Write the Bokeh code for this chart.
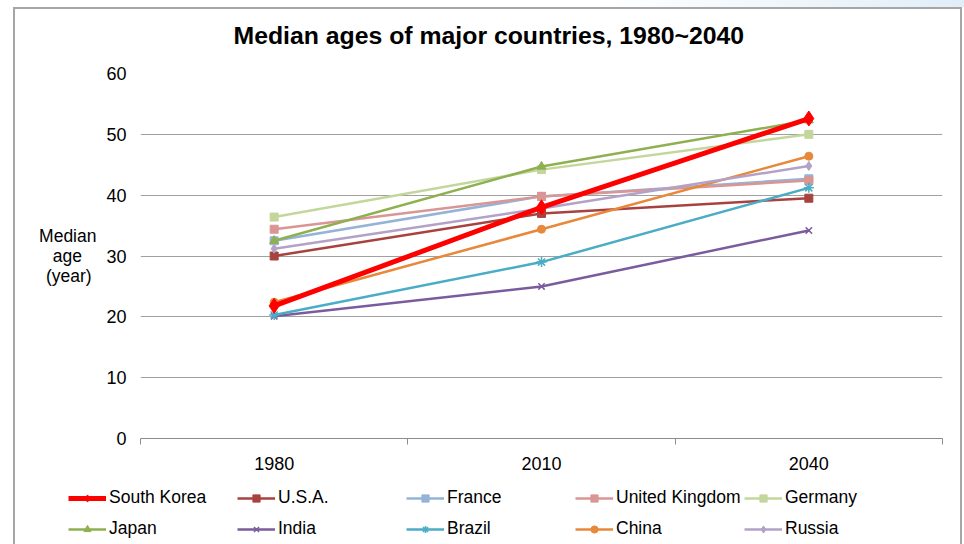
from bokeh.plotting import figure
from bokeh.layouts import column
from bokeh.models import (Range1d, FixedTicker, Legend, LegendItem, Label,
                          InlineStyleSheet)
from bokeh.embed import file_html
from bokeh.resources import INLINE

years = ["1980", "2010", "2040"]
y_ticks = [0, 10, 20, 30, 40, 50, 60]

south_korea = [21.8, 38.0, 52.6]
usa = [30.0, 37.0, 39.5]
france = [32.5, 39.8, 42.7]
uk = [34.4, 39.8, 42.4]
germany = [36.4, 44.2, 50.0]
japan = [32.5, 44.7, 52.3]
india = [20.1, 25.0, 34.2]
brazil = [20.3, 29.0, 41.2]
china = [22.4, 34.4, 46.4]
russia = [31.2, 37.8, 44.8]

TITLE = "Median ages of major countries, 1980~2040"
FONT = "Liberation Sans"
W = 964

# name, values, color, marker, marker size, line width
series = [
    ("U.S.A.", usa, "#A8423F", "square", 8, 2.5),
    ("France", france, "#95B3D7", "square", 8, 2.5),
    ("United Kingdom", uk, "#D99694", "square", 8, 2.5),
    ("Germany", germany, "#C3D69B", "square", 8, 2.5),
    ("Japan", japan, "#8FB050", "triangle", 9, 2.5),
    ("India", india, "#7A5C9E", "x", 9, 2.5),
    ("Brazil", brazil, "#4BACC6", "asterisk", 10, 2.5),
    ("China", china, "#E8883A", "circle", 8, 2.5),
    ("Russia", russia, "#B3A2C7", "diamond", 9, 2.5),
    ("South Korea", south_korea, "#FF0000", "diamond", 15, 5),
]
legend_order = ["South Korea", "U.S.A.", "France", "United Kingdom", "Germany",
                "Japan", "India", "Brazil", "China", "Russia"]

xs = [i + 0.5 for i in range(len(years))]

css = InlineStyleSheet(css="""
:host { position: relative; }
:host::before { content: ""; position: absolute; left: 0; top: 0;
  width: 964px; height: 7px; z-index: 10; pointer-events: none;
  background: linear-gradient(to right, rgba(255,255,255,0) 62%, #E1EEF8 100%); }
:host::after { content: ""; position: absolute; left: 13px; top: 7px;
  width: 949px; height: 537px; box-sizing: border-box; z-index: 10;
  pointer-events: none; border-left: 2px solid #A6A6A6;
  border-top: 2px solid #A6A6A6; border-right: 2px solid #A6A6A6; }
""")

def blank(h):
    f = figure(width=W, height=h, x_range=Range1d(0, W), y_range=Range1d(0, h),
               x_axis_type=None, y_axis_type=None, min_border=0,
               frame_align=False,
               output_backend="svg", toolbar_location=None)
    f.outline_line_color = None
    f.background_fill_color = None
    f.border_fill_color = None
    f.xgrid.visible = False
    f.ygrid.visible = False
    return f

# ---- header with title ----
HEAD_H = 61
head = blank(HEAD_H)
head.add_layout(Label(x=233, y=26, text=TITLE, text_font=FONT,
                      text_font_size="24.8px", text_font_style="bold",
                      text_color="#000000", text_align="left",
                      text_baseline="alphabetic"))

# ---- main chart ----
p = figure(frame_width=802, frame_height=365,
           min_border_left=140, min_border_right=22,
           min_border_top=12, min_border_bottom=40,
           x_range=Range1d(0, len(years)), y_range=Range1d(0, 60),
           frame_align=False,
           output_backend="svg", toolbar_location=None)
p.background_fill_color = "white"
p.border_fill_color = None
p.outline_line_color = None

p.xaxis.ticker = FixedTicker(ticks=xs, minor_ticks=list(range(len(years) + 1)))
p.xaxis.major_label_overrides = {x: y for x, y in zip(xs, years)}
p.xaxis.major_tick_line_color = None
p.xaxis.major_tick_out = 0
p.xaxis.major_tick_in = 0
p.xaxis.minor_tick_line_color = "#8C8C8C"
p.xaxis.minor_tick_out = 6
p.xaxis.minor_tick_in = 0
p.xaxis.axis_line_color = "#8C8C8C"
p.xaxis.major_label_text_font = FONT
p.xaxis.major_label_text_font_size = "18px"
p.xaxis.major_label_text_color = "#000000"
p.xaxis.major_label_standoff = 12

p.yaxis.ticker = FixedTicker(ticks=y_ticks)
p.yaxis.axis_line_color = None
p.yaxis.major_tick_line_color = None
p.yaxis.major_tick_out = 0
p.yaxis.major_tick_in = 0
p.yaxis.minor_tick_line_color = None
p.yaxis.minor_tick_out = 0
p.yaxis.major_label_text_font = FONT
p.yaxis.major_label_text_font_size = "18px"
p.yaxis.major_label_text_color = "#000000"
p.yaxis.major_label_standoff = 14
NB = "\u00a0"
p.yaxis.axis_label = "Median\nage" + NB * 3 + "\n(year)" + NB
p.yaxis.axis_label_orientation = "horizontal"
p.yaxis.axis_label_text_font = FONT
p.yaxis.axis_label_text_font_size = "17.5px"
p.yaxis.axis_label_text_font_style = "normal"
p.yaxis.axis_label_text_color = "#000000"
p.yaxis.axis_label_text_line_height = 0.98
p.yaxis.axis_label_standoff = 7

p.xgrid.grid_line_color = None
p.ygrid.ticker = FixedTicker(ticks=y_ticks[1:])
p.ygrid.grid_line_color = "#A0A0A0"
p.ygrid.grid_line_width = 1

# ---- legend strip ----
LEG_H = 66
leg = blank(LEG_H)
# the strip's sample renderers use an off-screen range: only the legend shows them
leg.extra_x_ranges = {"off": Range1d(100, 101)}

items = {}
for name, vals, color, marker, size, lw in series:
    p.line(xs, vals, line_color=color, line_width=lw)
    if marker in ("x", "asterisk"):
        style = dict(line_color=color, line_width=1.5)
    else:
        style = dict(fill_color=color, line_color=color, line_width=1)
    p.scatter(xs, vals, marker=marker, size=size, **style)
    l1 = leg.line(xs, vals, line_color=color, line_width=lw, x_range_name="off")
    l2 = leg.scatter(xs, vals, marker=marker, size=size, x_range_name="off",
                     **style)
    items[name] = LegendItem(label=name, renderers=[l1, l2])

lg = Legend(items=[items[n] for n in legend_order], location=(68, 0),
            orientation="horizontal", ncols=5, padding=0, margin=0, spacing=0,
            glyph_width=38, glyph_height=18, label_height=31, label_width=128,
            label_standoff=3, border_line_color=None,
            background_fill_color=None,
            label_text_font=FONT, label_text_font_size="17.5px",
            label_text_color="#000000")
leg.add_layout(lg, "center")

page = column(head, p, leg, spacing=0, stylesheets=[css])

open("out.html", "w").write(file_html(page, INLINE))
